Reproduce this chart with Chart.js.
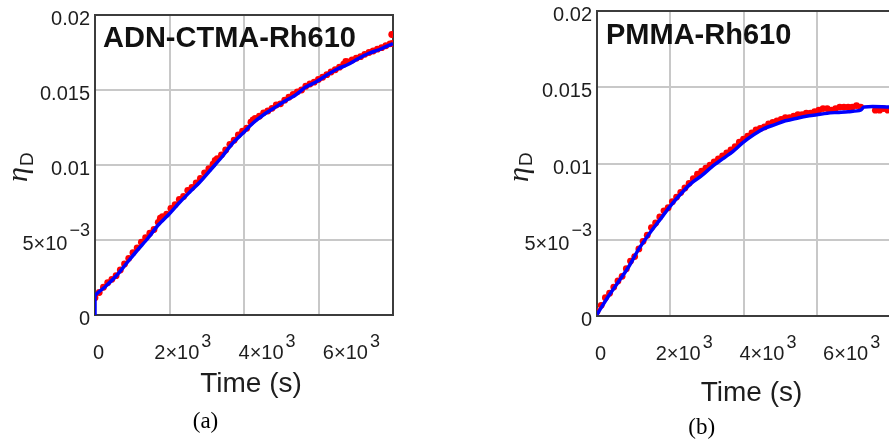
<!DOCTYPE html>
<html>
<head>
<meta charset="utf-8">
<script src="https://cdn.jsdelivr.net/npm/chart.js@4.4.1/dist/chart.umd.min.js"></script>
<style>
  html, body { margin: 0; padding: 0; background: #fff; }
  body { width: 889px; height: 443px; overflow: hidden; position: relative; }
  canvas { position: absolute; top: 0; }
  #chartA { left: 0; }
  #chartB { left: 445px; }
</style>
</head>
<body>
<canvas id="chartA" width="445" height="443"></canvas>
<canvas id="chartB" width="460" height="443"></canvas>
<script>
// ---- data ----

// tick labels (mantissa + exponent)
const xTicks = [0, 2000, 4000, 6000];
const xTickBase = ['0', '2×10', '4×10', '6×10'];
const xTickExp = ['', '3', '3', '3'];
const yTicks = [0, 0.005, 0.01, 0.015, 0.02];
const yTickBase = ['0', '5×10', '0.01', '0.015', '0.02'];
const yTickExp = ['', '−3', '', '', ''];

// (a) ADN-CTMA-Rh610 : measured points
const aRedT = [0, 100, 200, 300, 400, 500, 600, 700, 800, 900,
  1000, 1100, 1200, 1300, 1400, 1500, 1550, 1600, 1700, 1800, 1900,
  2000, 2100, 2200, 2300, 2400, 2500, 2600, 2700, 2800, 2850, 2900,
  3000, 3100, 3200, 3300, 3400, 3500, 3600, 3700, 3750, 3800, 3900,
  4000, 4100, 4200, 4300, 4400, 4500, 4600, 4700, 4800, 4900,
  5000, 5100, 5200, 5300, 5400, 5500, 5600, 5700, 5800, 5900, 5950,
  6000, 6100, 6200, 6300, 6400, 6500, 6600, 6700, 6800, 6900,
  7000, 7040, 7060];
const aRedEta = [0.00115, 0.00150, 0.00185, 0.00215, 0.00238, 0.00262, 0.00300, 0.00340, 0.00378, 0.00415,
  0.00448, 0.00485, 0.00515, 0.00545, 0.00570, 0.00618, 0.00645, 0.00655, 0.00672, 0.00710, 0.00735,
  0.00770, 0.00790, 0.00830, 0.00850, 0.00880, 0.00910, 0.00948, 0.00975, 0.01005, 0.01030, 0.01042,
  0.01068, 0.01100, 0.01138, 0.01165, 0.01200, 0.01225, 0.01245, 0.01285, 0.01300, 0.01310, 0.01325,
  0.01348, 0.01360, 0.01378, 0.01400, 0.01408, 0.01432, 0.01452, 0.01470, 0.01488, 0.01500,
  0.01525, 0.01540, 0.01552, 0.01570, 0.01585, 0.01602, 0.01620, 0.01635, 0.01652, 0.01672, 0.01690,
  0.01688, 0.01700, 0.01712, 0.01722, 0.01738, 0.01750, 0.01760, 0.01772, 0.01782, 0.01795,
  0.01808, 0.01870, 0.01810];

// (a) fitted curve
const aFitT = [0, 0, 250, 500, 750, 1000, 1250, 1500, 1750, 2000, 2250, 2500, 2750, 3000,
  3250, 3500, 3750, 4000, 4250, 4500, 4750, 5000, 5250, 5500, 5750, 6000, 6250, 6500, 6750, 7070];
const aFitEta = [0, 0.00125, 0.0019, 0.0026, 0.00345, 0.0043, 0.0051, 0.0060, 0.0067, 0.00748, 0.0082, 0.0089, 0.0097, 0.0105,
  0.0114, 0.0121, 0.0128, 0.01335, 0.0138, 0.01425, 0.01465, 0.0152, 0.01555, 0.0160, 0.0164, 0.0167, 0.0171, 0.01745, 0.0177, 0.0181];

// (b) PMMA-Rh610 : measured points
const bRedT = [0, 100, 200, 300, 400, 500, 600, 700, 800, 900,
  1000, 1100, 1200, 1300, 1400, 1500, 1600, 1700, 1800, 1900,
  2000, 2100, 2200, 2300, 2400, 2500, 2600, 2700, 2800, 2900,
  3000, 3100, 3200, 3300, 3400, 3500, 3600, 3700, 3800, 3900,
  4000, 4100, 4200, 4300, 4400, 4500, 4600, 4700, 4800, 4900,
  5000, 5100, 5200, 5300, 5400, 5500, 5600, 5700, 5800, 5900,
  6000, 6100, 6200, 6300, 6650, 6750, 6850, 6950];
const bRedEta = [0.0003, 0.0007, 0.0012, 0.0015, 0.0019, 0.0023, 0.0026, 0.0031, 0.0036, 0.0039,
  0.0044, 0.0049, 0.0053, 0.0058, 0.0061, 0.0065, 0.0069, 0.0071, 0.0075, 0.0078,
  0.0081, 0.0084, 0.0087, 0.0090, 0.0093, 0.0095, 0.0097, 0.0099, 0.0101, 0.0103,
  0.0105, 0.0107, 0.0109, 0.0111, 0.0114, 0.0116, 0.0118, 0.0120, 0.0122, 0.0123,
  0.0124, 0.0126, 0.0127, 0.0128, 0.0129, 0.0130, 0.0130, 0.0131, 0.0132, 0.0132,
  0.0133, 0.0133, 0.0134, 0.0135, 0.0136, 0.0136, 0.0135, 0.0136, 0.0137, 0.0137,
  0.0137, 0.0137, 0.0138, 0.0137, 0.0135, 0.0135, 0.0136, 0.0135];

// (b) fitted curve
const bFitT = [0, 250, 500, 750, 1000, 1250, 1500, 1750, 2000, 2250, 2500, 2750, 3000, 3250,
  3500, 3750, 4000, 4250, 4500, 4750, 5000, 5250, 5500, 5750, 6000, 6300, 6380, 7000];
const bFitEta = [0.0001, 0.0012, 0.0022, 0.0032, 0.0044, 0.0054, 0.0063, 0.0072, 0.0080, 0.0087, 0.0092, 0.0098, 0.0103, 0.0108,
  0.0114, 0.0119, 0.0123, 0.01255, 0.0128, 0.01295, 0.0131, 0.0132, 0.0133, 0.01335, 0.0134, 0.0135, 0.01371, 0.01371];

// ---- drawing ----

const TICK_FONT = '20px "Liberation Sans", Arial, sans-serif';
const EXP_FONT = '18px "Liberation Sans", Arial, sans-serif';
const INK = '#1e1e1e';

function toPoints(xs, ys) {
    return xs.map((x, i) => ({ x: x, y: ys[i] }));
}

function drawTickLabel(ctx, base, exp, x, y, align, raise) {
    ctx.font = TICK_FONT;
    const wb = ctx.measureText(base).width;
    ctx.font = EXP_FONT;
    const we = exp ? ctx.measureText(exp).width : 0;
    const gap = exp ? 2 : 0;
    const total = wb + gap + we;
    const x0 = align === 'right' ? x - total : x - total / 2;
    ctx.textAlign = 'left';
    ctx.font = TICK_FONT;
    ctx.fillText(base, x0, y);
    if (exp) {
        ctx.font = EXP_FONT;
        ctx.fillText(exp, x0 + wb + gap, y - raise);
    }
}

const figText = {
    id: 'figText',
    beforeDatasetsDraw(chart) {
        const { ctx, chartArea: ca } = chart;
        ctx.save();
        ctx.strokeStyle = '#3c3c3c';
        ctx.lineWidth = 2;
        ctx.strokeRect(ca.left, ca.top, ca.right - ca.left, ca.bottom - ca.top);
        ctx.restore();
    },
    afterDraw(chart, args, o) {
        const { ctx, chartArea: ca, scales } = chart;
        ctx.save();
        ctx.fillStyle = INK;
        ctx.textBaseline = 'alphabetic';

        // y tick labels
        yTicks.forEach((v, i) => {
            const py = scales.y.getPixelForValue(v);
            drawTickLabel(ctx, yTickBase[i], yTickExp[i], ca.left - 5, py + 10, 'right', 14);
        });
        // x tick labels
        xTicks.forEach((v, i) => {
            const px = scales.x.getPixelForValue(v);
            drawTickLabel(ctx, xTickBase[i], xTickExp[i], px + 3.5, ca.bottom + 44, 'center', 12);
        });

        // axis titles
        ctx.font = '28px "Liberation Sans", Arial, sans-serif';
        ctx.textAlign = 'center';
        ctx.fillText('Time (s)', (ca.left + ca.right) / 2 + o.timeDx, o.timeY);

        ctx.save();
        ctx.translate(o.etaX, o.etaY);
        ctx.rotate(-Math.PI / 2);
        ctx.textAlign = 'left';
        ctx.font = 'italic 30px "Liberation Serif", "Times New Roman", serif';
        ctx.fillText('η', 0, 0);
        const we = ctx.measureText('η').width;
        ctx.font = '19px "Liberation Sans", Arial, sans-serif';
        ctx.fillText('D', we + 1, o.subDy);
        ctx.restore();

        // sample name inside the plot
        ctx.font = 'bold 29px "Liberation Sans", Arial, sans-serif';
        ctx.textAlign = 'left';
        ctx.fillStyle = '#111';
        ctx.fillText(o.name, o.nameX, o.nameY);

        // panel caption
        ctx.font = '23px "Liberation Serif", "Times New Roman", serif';
        ctx.textAlign = 'center';
        ctx.fillStyle = '#000';
        ctx.fillText(o.caption, o.capX, o.capY);
        ctx.restore();
    }
};

function makeChart(id, fitT, fitEta, redT, redEta, xMax, padding, text) {
    return new Chart(document.getElementById(id), {
        type: 'scatter',
        data: {
            datasets: [{
                label: 'fit',
                data: toPoints(fitT, fitEta),
                showLine: true,
                borderColor: '#0000ff',
                borderWidth: 3.5,
                pointRadius: 0,
                tension: 0.3
            }, {
                label: 'measured',
                data: toPoints(redT, redEta),
                pointRadius: 3.4,
                pointBackgroundColor: '#ff0000',
                pointBorderWidth: 0,
                borderColor: '#ff0000'
            }]
        },
        options: {
            responsive: false,
            animation: false,
            layout: { padding: padding },
            plugins: {
                legend: { display: false },
                tooltip: { enabled: false },
                figText: text
            },
            scales: {
                x: {
                    type: 'linear',
                    min: 0,
                    max: xMax,
                    ticks: { display: false, stepSize: 2000, includeBounds: false },
                    grid: { color: '#c8c8c8', lineWidth: 2, drawTicks: false },
                    border: { display: false }
                },
                y: {
                    type: 'linear',
                    min: 0,
                    max: 0.02,
                    ticks: { display: false, stepSize: 0.005 },
                    grid: { color: '#c8c8c8', lineWidth: 2, drawTicks: false },
                    border: { display: false }
                }
            }
        },
        plugins: [figText]
    });
}

makeChart('chartA', aFitT, aFitEta, aRedT, aRedEta, 7070,
    { left: 95, right: 52, top: 15, bottom: 128 },
    { name: 'ADN-CTMA-Rh610', nameX: 103, nameY: 47, timeDx: 7, timeY: 392,
      etaX: 27, etaY: 182, subDy: 6, caption: '(a)', capX: 205.5, capY: 427.5 });

makeChart('chartB', bFitT, bFitEta, bRedT, bRedEta, 7000,
    { left: 152, right: 15, top: 11, bottom: 127 },
    { name: 'PMMA-Rh610', nameX: 161, nameY: 43.5, timeDx: 8, timeY: 401,
      etaX: 83, etaY: 182, subDy: 4, caption: '(b)', capX: 256.7, capY: 434 });
</script>
</body>
</html>
